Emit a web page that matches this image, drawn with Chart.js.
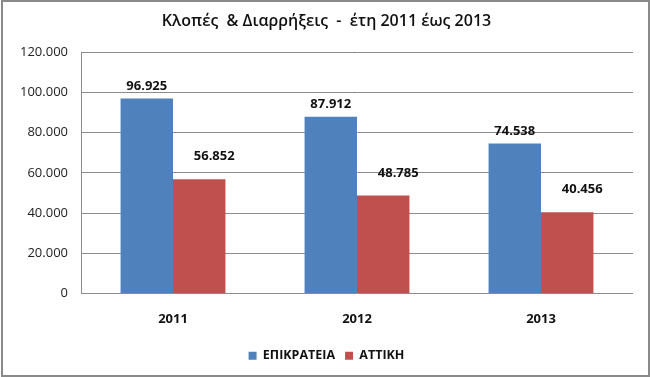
<!DOCTYPE html>
<html>
<head>
<meta charset="utf-8">
<script src="https://cdn.jsdelivr.net/npm/chart.js@4/dist/chart.umd.min.js"></script>
<style>
  html, body { margin: 0; padding: 0; background: #fff; }
  #wrap { position: relative; width: 650px; height: 377px; }
</style>
</head>
<body>
<div id="wrap"><canvas id="chart" width="650" height="377"></canvas></div>
<script>
// Data
const years      = ['2011', '2012', '2013'];
const epikrateia = [96925, 87912, 74538];
const attiki     = [56852, 48785, 40456];
const yTicks     = [0, 20000, 40000, 60000, 80000, 100000, 120000];

const FONT = "'Open Sans', 'Liberation Sans', sans-serif";

// Greek number format: 96.925
const fmtGr = v => String(Math.round(v)).replace(/\B(?=(\d{3})+(?!\d))/g, '.');

// Value labels above the bars (Excel "outside end")
const labelPlugin = {
  id: 'valueLabels',
  afterDatasetsDraw(chart) {
    const ctx = chart.ctx;
    ctx.save();
    ctx.font = 'bold 13px ' + FONT;
    ctx.fillStyle = '#111';
    ctx.textAlign = 'center';
    ctx.textBaseline = 'bottom';
    chart.data.datasets.forEach((ds, i) => {
      const meta = chart.getDatasetMeta(i);
      const off = ds.labelOffset || { x: 0, y: 8 };
      meta.data.forEach((bar, j) => {
        ctx.fillText(fmtGr(ds.data[j]), bar.x + off.x, bar.y - off.y);
      });
    });
    ctx.restore();
  }
};

// Outer frame of the chart object
const framePlugin = {
  id: 'frame',
  afterDraw(chart) {
    const ctx = chart.ctx;
    ctx.save();
    ctx.strokeStyle = '#8a8a8a';
    ctx.lineWidth = 2;
    ctx.strokeRect(2, 1, chart.width - 3, chart.height - 2);
    ctx.restore();
  }
};

const padLeft = 20;

new Chart(document.getElementById('chart').getContext('2d'), {
  type: 'bar',
  data: {
    labels: years,
    datasets: [
      { label: 'ΕΠΙΚΡΑΤΕΙΑ', data: epikrateia, backgroundColor: '#4F81BD', labelOffset: { x: 0, y: 6 } },
      { label: 'ΑΤΤΙΚΗ',     data: attiki,     backgroundColor: '#C0504D', labelOffset: { x: 15, y: 16 } },
    ],
  },
  options: {
    responsive: false,
    animation: false,
    datasets: { bar: { categoryPercentage: 0.57, barPercentage: 1.0 } },
    layout: { padding: { top: 0, left: padLeft, right: 17, bottom: 5 } },
    plugins: {
      title: {
        display: true,
        text: 'Κλοπές  & Διαρρήξεις  -  έτη 2011 έως 2013',
        color: '#111',
        font: { family: FONT, size: 16, weight: '600' },
        padding: { top: 12, bottom: 21 },
      },
      legend: {
        position: 'bottom',
        labels: {
          color: '#111',
          font: { family: FONT, size: 12.5, weight: 'bold' },
          boxWidth: 8,
          boxHeight: 8,
          padding: 10,
        },
      },
      tooltip: { enabled: false },
    },
    scales: {
      x: {
        grid: { display: false, drawTicks: false },
        border: { display: false },
        ticks: { color: '#111', font: { family: FONT, size: 13, weight: 'bold' }, padding: 18 },
        afterFit: s => { s.height = 46; },
      },
      y: {
        min: 0,
        max: 120000,
        afterBuildTicks: s => { s.ticks = yTicks.map(v => ({ value: v })); },
        grid: { color: '#8c8c8c', drawTicks: false },
        border: { display: true, color: '#8c8c8c' },
        ticks: { color: '#222', font: { family: FONT, size: 13 }, padding: 13, callback: v => fmtGr(v) },
        afterFit: s => { s.width = 81 - padLeft; },
      },
    },
  },
  plugins: [labelPlugin, framePlugin],
});
</script>
</body>
</html>
